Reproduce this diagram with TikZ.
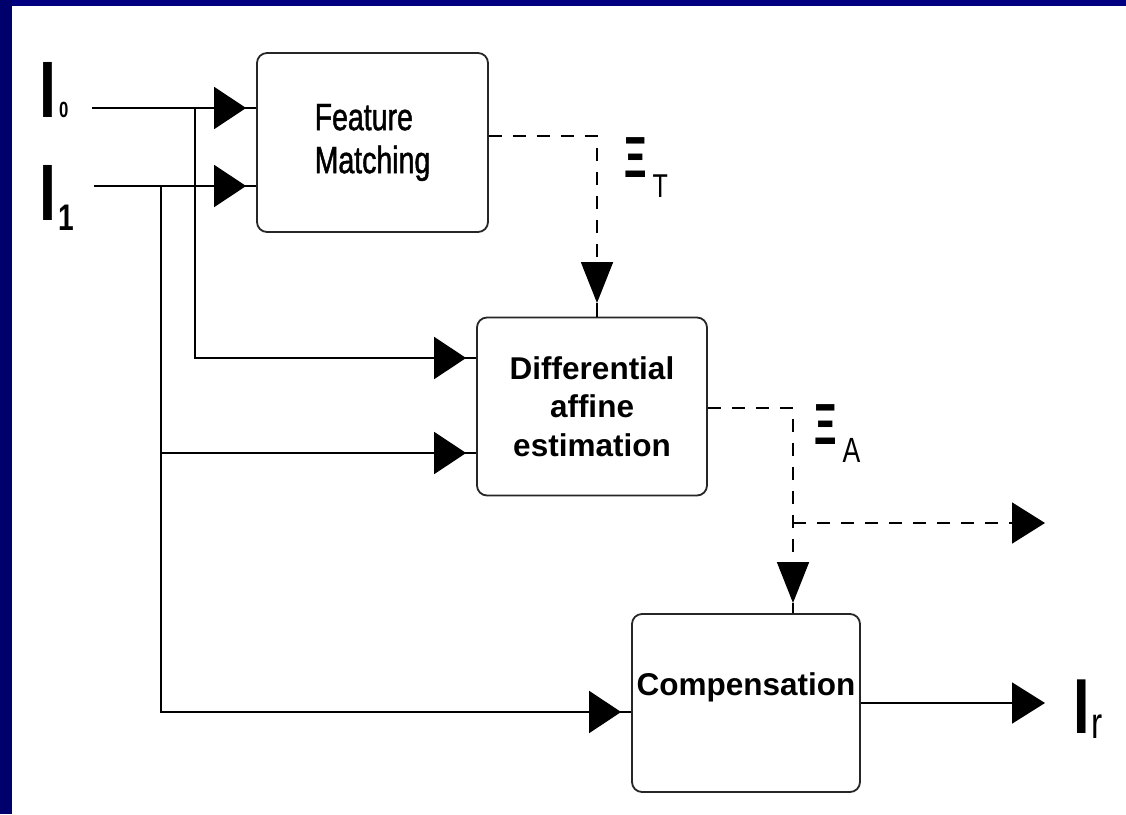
\documentclass[tikz,border=0pt]{standalone}
\usepackage{fontspec}
\setmainfont{Liberation Sans}
\newfontfamily\narrowfont[FakeStretch=0.76]{Liberation Sans}
\newfontfamily\fmfont[FakeStretch=0.75, FakeBold=1.2]{Liberation Sans}
\newfontfamily\xifont[FakeStretch=0.6]{Liberation Sans}
\usetikzlibrary{arrows.meta}
\usetikzlibrary{decorations.markings}
\definecolor{slidenavy}{RGB}{0,0,128}
\definecolor{slideside}{RGB}{0,0,108}

\tikzset{
  block/.style={draw=black!85, line width=1.8pt, rounded corners=10pt,
                minimum width=230pt, minimum height=178pt, inner sep=0pt},
  wire/.style={line width=1.8pt},
  feed/.style={wire, postaction={decorate}, decoration={markings,
               mark=at position -10pt with {\arrow{Triangle[length=32pt,width=42pt]}}}},
  dashwire/.style={wire, dash pattern=on 13pt off 11pt},
  downtip/.style={-{Triangle[length=41pt,width=32pt]}},
  righttip/.style={-{Triangle[length=33pt,width=41pt]}},
  sig/.style={anchor=base west, inner sep=0pt},
}

\begin{document}
\begin{tikzpicture}[x=1pt, y=-1pt]
        \useasboundingbox (0,0) rectangle (1126,814);
        \fill[white] (0,0) rectangle (1126,814);
        \fill[slidenavy] (0,0) rectangle (1126,6);
        \fill[slideside] (0,0) rectangle (12,814);

        \node[block, font=\fmfont\fontsize{38}{43}\selectfont, align=left,
              minimum width=231pt, minimum height=179pt] (fm) at (372.5,142.5)
              {Feature\\Matching};
        \node[block, font=\bfseries\fontsize{31.5}{38.5}\selectfont, align=center]
              (dae) at (592,406.5) {Differential\\affine\\estimation};
        \node[block, font=\bfseries\fontsize{31.5}{35}\selectfont, text height=22pt,
              text depth=38pt, minimum width=228pt] (comp) at (746,703) {Compensation};

        \node[sig] (I0) at (39,117) {\narrowfont\bfseries\fontsize{80}{80}\selectfont
              I\hspace{3pt}\fontsize{22}{22}\selectfont 0};
        \node[sig] (I1) at (39,220) {\narrowfont\bfseries\fontsize{80}{80}\selectfont
              I\hspace{2pt}\raisebox{-10pt}{\fontsize{37}{37}\selectfont 1}};
        \node[sig] (Ir) at (1073,733) {\narrowfont\bfseries\fontsize{78}{78}\selectfont
              I\hspace{2pt}\raisebox{-5pt}{\mdseries\fontsize{44}{44}\selectfont r}};
        \node[sig] (xiT) at (624,177) {\xifont\bfseries\fontsize{58}{58}\selectfont
              Ξ\hspace{6pt}\raisebox{-20pt}{\narrowfont\mdseries\fontsize{33}{33}\selectfont T}};
        \node[sig] (xiA) at (814,444) {\xifont\bfseries\fontsize{58}{58}\selectfont
              Ξ\hspace{6pt}\raisebox{-18pt}{\narrowfont\mdseries\fontsize{35}{35}\selectfont A}};

        \coordinate (s0) at (92,108);
        \coordinate (s1) at (94,186);
        \coordinate (j0) at (195,108);
        \coordinate (j1) at (161,186);
        \coordinate (j2) at (793,523);
        \coordinate (tT) at (597,303);
        \coordinate (tA) at (793,603);
        \coordinate (out2) at (1045,523);
        \coordinate (out1) at (1045,703);

        \draw[feed] (s0) -- (s0 -| fm.west);
        \draw[feed] (s1) -- (s1 -| fm.west);
        \draw[feed] (j0) |- ([yshift=48.5pt]dae.west);
        \draw[feed] (j1) |- ([yshift=-46.5pt]dae.west);
        \draw[feed] (j1) |- ([yshift=-9pt]comp.west);

        \draw[dashwire, downtip] ([yshift=6.5pt]fm.east) -| (tT);
        \draw[wire] (tT) -- (tT |- dae.north);
        \draw[dashwire, downtip] ([yshift=-1.5pt]dae.east) -| (tA);
        \draw[wire] (tA) -- (tA |- comp.north);
        \draw[dashwire, righttip] (j2) -- (out2);
        \draw[wire, righttip] (comp.east) -- (out1);
      \end{tikzpicture}
\end{document}
